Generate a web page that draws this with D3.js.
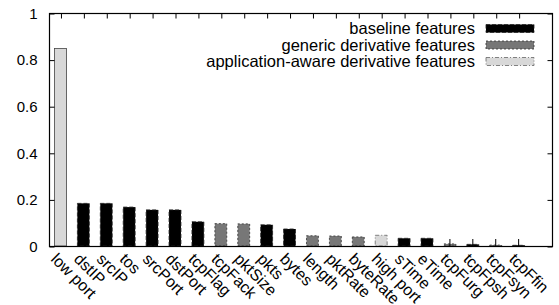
<!DOCTYPE html>
<html>
<head>
<meta charset="utf-8">
<script src="https://cdn.jsdelivr.net/npm/d3@7"></script>
<style>
  body { margin: 0; background: #fff; }
  text { font-family: "Liberation Sans", Arial, sans-serif; }
</style>
</head>
<body>
<div id="container"></div>
<script>
const width = 559;
const height = 305;

// feature names along the x axis
const categories = ['low port', 'dstIP', 'srcIP', 'tos', 'srcPort', 'dstPort', 'tcpFlag',
  'tcpFack', 'pktSize', 'pkts', 'bytes', 'length', 'pktRate', 'byteRate', 'high port',
  'sTime', 'eTime', 'tcpFurg', 'tcpFpsh', 'tcpFsyn', 'tcpFfin'];
// importance score of each feature
const values = [0.848, 0.183, 0.183, 0.167, 0.155, 0.155, 0.104,
  0.096, 0.095, 0.091, 0.073, 0.044, 0.043, 0.039, 0.046,
  0.033, 0.033, 0.009, 0.007, 0.004, 0.003];
// error bar half-widths
const errors = [0, 0, 0, 0, 0, 0, 0,
  0, 0, 0, 0, 0, 0, 0, 0,
  0, 0, 0.021, 0.023, 0.026, 0.027];
// feature group: 0 baseline, 1 generic derivative, 2 application-aware derivative
const groups = [2, 0, 0, 0, 0, 0, 0,
  1, 1, 0, 0, 1, 1, 1, 2,
  0, 0, 1, 0, 1, 0];
const groupNames = ['baseline features', 'generic derivative features', 'application-aware derivative features'];
const yTicks = [0, 0.2, 0.4, 0.6, 0.8, 1];

const styles = [
  { fill: '#000', stroke: '#222', dash: '4,2' },
  { fill: '#777', stroke: '#333', dash: '2,2' },
  { fill: '#d8d8d8', stroke: '#666', dash: '4,2,1,2' }
];

const mLeft = 49, mRight = 553, mTop = 13, mBottom = 246;

const x = d3.scaleLinear().domain([-0.5, categories.length + 0.5]).range([mLeft, mRight]);
const y = d3.scaleLinear().domain([0, 1]).range([mBottom, mTop]);
const barW = (x(1) - x(0)) * 0.52;

const svg = d3.select('#container')
  .append('svg')
  .attr('width', width)
  .attr('height', height)
  .attr('font-size', 15);

// bars
svg.append('g')
  .selectAll('rect')
  .data(values)
  .join('rect')
  .attr('x', (d, i) => x(i) - barW / 2)
  .attr('y', d => y(d))
  .attr('width', barW)
  .attr('height', d => y(0) - y(d))
  .attr('fill', (d, i) => styles[groups[i]].fill)
  .attr('stroke', (d, i) => i === 0 ? '#444' : styles[groups[i]].stroke)
  .attr('stroke-dasharray', (d, i) => i === 0 ? null : styles[groups[i]].dash)
  .attr('stroke-width', 0.8);

// error bars
svg.append('g')
  .selectAll('line')
  .data(values.map((v, i) => ({ v, i, e: errors[i] })).filter(d => d.e > 0))
  .join('line')
  .attr('x1', d => x(d.i))
  .attr('x2', d => x(d.i))
  .attr('y1', d => y(Math.max(0, d.v - d.e)))
  .attr('y2', d => y(d.v + d.e))
  .attr('stroke', '#000')
  .attr('stroke-width', 1);

// frame
svg.append('rect')
  .attr('x', mLeft + 0.5)
  .attr('y', mTop + 0.5)
  .attr('width', mRight - mLeft - 1)
  .attr('height', mBottom - mTop)
  .attr('fill', 'none')
  .attr('stroke', '#000')
  .attr('stroke-width', 1.2);

// y axis left
svg.append('g')
  .attr('transform', `translate(${mLeft + 0.5},0.5)`)
  .call(d3.axisLeft(y).tickValues(yTicks).tickSize(-5).tickPadding(12).tickFormat(d3.format('')))
  .call(g => g.select('.domain').remove())
  .call(g => g.selectAll('text').attr('font-size', 15).attr('font-family', '"Liberation Sans", Arial, sans-serif').attr('fill', '#000'));

// y axis right (mirror ticks)
svg.append('g')
  .attr('transform', `translate(${mRight - 0.5},0.5)`)
  .call(d3.axisRight(y).tickValues(yTicks).tickSize(-5).tickFormat(''))
  .call(g => g.select('.domain').remove());

// top mirror ticks
svg.append('g')
  .attr('transform', `translate(0.5,${mTop + 0.5})`)
  .call(d3.axisTop(x).tickValues(d3.range(categories.length)).tickSize(-5).tickFormat(''))
  .call(g => g.select('.domain').remove());

// x labels
svg.append('g')
  .attr('transform', `translate(0,${mBottom})`)
  .call(d3.axisBottom(x).tickValues(d3.range(categories.length)).tickSize(0).tickFormat(i => categories[i]))
  .call(g => g.select('.domain').remove())
  .call(g => g.selectAll('text')
    .attr('font-size', 16)
    .attr('font-family', '"Liberation Sans", Arial, sans-serif')
    .attr('fill', '#000')
    .attr('text-anchor', 'start')
    .attr('dy', null)
    .attr('y', 0)
    .attr('dominant-baseline', 'hanging')
    .attr('transform', 'translate(-3,6) rotate(45)'));

// legend
const legend = svg.append('g');
groupNames.forEach((name, k) => {
  const cy = 28.5 + k * 16.5;
  legend.append('text')
    .attr('x', 475)
    .attr('y', cy)
    .attr('dy', '0.35em')
    .attr('text-anchor', 'end')
    .attr('font-size', 16.5)
    .text(name);
  legend.append('rect')
    .attr('x', 486)
    .attr('y', cy - 4)
    .attr('width', 48)
    .attr('height', 8)
    .attr('fill', styles[k].fill)
    .attr('stroke', styles[k].stroke)
    .attr('stroke-width', 0.8)
    .attr('stroke-dasharray', styles[k].dash);
});
</script>
</body>
</html>
